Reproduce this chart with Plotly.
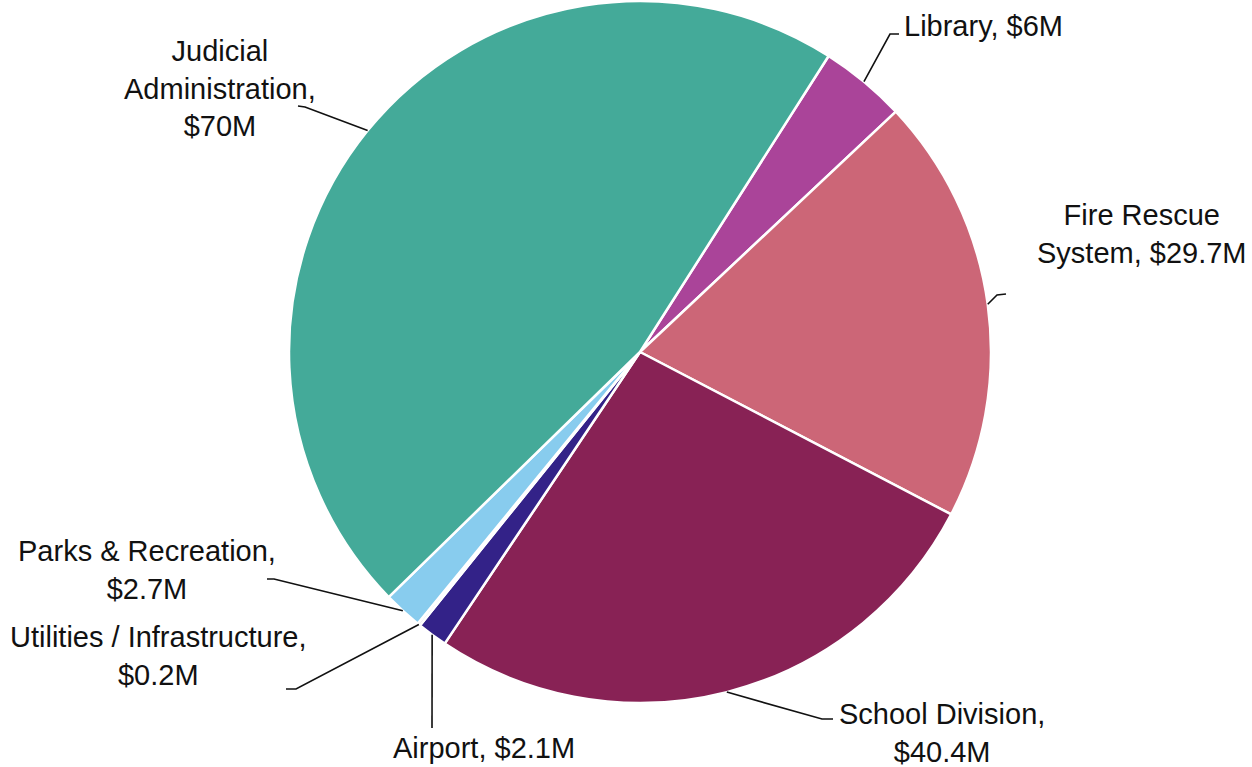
import math
import plotly.graph_objects as go

# Capital spending by department, $ millions (clockwise from Library)
departments = ["Library", "Fire Rescue System", "School Division", "Airport",
               "Utilities / Infrastructure", "Parks & Recreation", "Judicial Administration"]
amounts = [6, 29.7, 40.4, 2.1, 0.2, 2.7, 70]
label_text = ["Library, $6M", "Fire Rescue<br>System, $29.7M", "School Division,<br>$40.4M",
              "Airport, $2.1M", "Utilities / Infrastructure,<br>$0.2M",
              "Parks & Recreation,<br>$2.7M", "Judicial<br>Administration,<br>$70M"]
colors = ["#AA4499", "#CC6677", "#882255", "#332288", "#DDDDDD", "#88CCEE", "#44AA99"]

W, H = 1252, 767
CX, CY, R = 640, 352, 351          # pie centre and radius in pixels
START_ANGLE = 32.5                  # degrees clockwise from 12 o'clock

# label anchor (px), text anchor, and leader-line bend points (px) per slice
label_pos = [(902, 26, "left"), (1142, 234, "center"), (942, 733, "center"),
             (484, 748, "center"), (158, 656, "center"), (147, 570, "center"),
             (220, 89, "center")]
leader_bends = [[(890, 34), (899, 34)],
                [(997, 295), (1006, 294)],
                [(822, 719), (833, 719)],
                [(432, 728)],
                [(296, 689), (286, 689)],
                [(274, 579), (267, 579)],
                [(305, 107), (298, 106)]]


def px(x):
    return x / W


def py(y):
    return 1 - y / H


fig = go.Figure(go.Pie(
    labels=departments,
    values=amounts,
    sort=False,
    direction="clockwise",
    rotation=START_ANGLE,
    marker=dict(colors=colors, line=dict(color="white", width=2.5)),
    textinfo="none",
    hoverinfo="label+value",
    showlegend=False,
    domain=dict(x=[px(CX - R), px(CX + R)], y=[py(CY + R), py(CY - R)]),
))

total = sum(amounts)
cum = 0.0
shapes, annotations = [], []
for val, txt, (lx, ly, anchor), bends in zip(amounts, label_text, label_pos, leader_bends):
    mid = START_ANGLE + (cum + val / 2) / total * 360
    cum += val
    a = math.radians(mid)
    ex, ey = CX + R * math.sin(a), CY - R * math.cos(a)
    pts = [(ex, ey)] + bends
    path = "M " + " L ".join(f"{px(x):.5f},{py(y):.5f}" for x, y in pts)
    shapes.append(dict(type="path", xref="paper", yref="paper", path=path,
                       line=dict(color="#111111", width=1.6)))
    annotations.append(dict(x=px(lx), y=py(ly), xref="paper", yref="paper",
                            text=txt, showarrow=False, xanchor=anchor, yanchor="middle",
                            align="center",
                            font=dict(family="Liberation Sans, Arial, sans-serif",
                                      size=29, color="#111111")))

fig.update_layout(
    width=W, height=H,
    margin=dict(l=0, r=0, t=0, b=0),
    paper_bgcolor="white",
    plot_bgcolor="white",
    shapes=shapes,
    annotations=annotations,
)

fig.write_html("out.html")
